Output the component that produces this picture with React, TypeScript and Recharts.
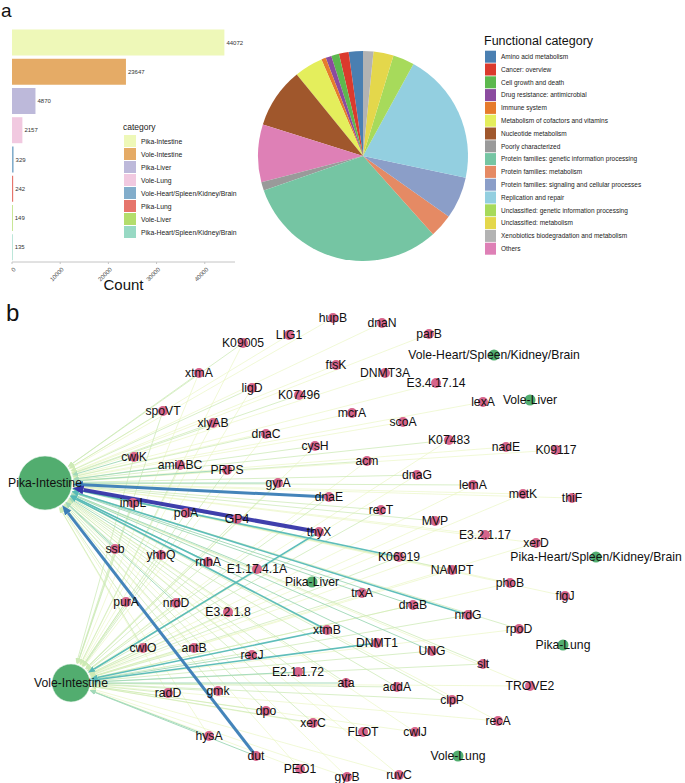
import React from "react";
import {
  BarChart,
  Bar,
  XAxis,
  YAxis,
  Cell,
  LabelList,
  Label,
  PieChart,
  Pie,
  ScatterChart,
  Scatter,
  ReferenceLine,
} from "recharts";

const FONT = "'Liberation Sans', Arial, Helvetica, sans-serif";

// ---- panel a: counts per tissue ----
const categories = [
  "Pika-Intestine",
  "Vole-Intestine",
  "Pika-Liver",
  "Vole-Lung",
  "Vole-Heart/Spleen/Kidney/Brain",
  "Pika-Lung",
  "Vole-Liver",
  "Pika-Heart/Spleen/Kidney/Brain",
];
const counts = [44072, 23647, 4870, 2157, 329, 242, 149, 135];
const countTicks = [0, 10000, 20000, 30000, 40000];
const categoryColors = ["#eef8b8", "#e5ab66", "#bdb9da", "#f1c9e0", "#82adcb", "#e6756c", "#b3dd6c", "#98d9c4"];

// ---- panel a: functional categories (pie order, counter-clockwise from top) ----
const pieCategories = [
  "Amino acid metabolism",
  "Cancer: overview",
  "Cell growth and death",
  "Drug resistance: antimicrobial",
  "Immune system",
  "Metabolism of cofactors and vitamins",
  "Nucleotide metabolism",
  "Others",
  "Poorly characterized",
  "Protein families: genetic information processing",
  "Protein families: metabolism",
  "Protein families: signaling and cellular processes",
  "Replication and repair",
  "Unclassified: genetic information processing",
  "Unclassified: metabolism",
  "Xenobiotics biodegradation and metabolism",
];
const pieShares = [2.2, 1.5, 1.2, 0.9, 0.7, 4.4, 9.3, 8.9, 1.3, 31.4, 3.6, 6.5, 20.4, 3.3, 3.1, 1.6];
const legendOrder = [
  "Amino acid metabolism",
  "Cancer: overview",
  "Cell growth and death",
  "Drug resistance: antimicrobial",
  "Immune system",
  "Metabolism of cofactors and vitamins",
  "Nucleotide metabolism",
  "Poorly characterized",
  "Protein families: genetic information processing",
  "Protein families: metabolism",
  "Protein families: signaling and cellular processes",
  "Replication and repair",
  "Unclassified: genetic information processing",
  "Unclassified: metabolism",
  "Xenobiotics biodegradation and metabolism",
  "Others",
];
const functionalColors: Record<string, string> = {
  "Amino acid metabolism": "#4a7fb1",
  "Cancer: overview": "#db3a2d",
  "Cell growth and death": "#5db84e",
  "Drug resistance: antimicrobial": "#8b4b9f",
  "Immune system": "#e67b2c",
  "Metabolism of cofactors and vitamins": "#e4ee5c",
  "Nucleotide metabolism": "#a0572c",
  "Poorly characterized": "#9a9a9a",
  "Protein families: genetic information processing": "#75c5a3",
  "Protein families: metabolism": "#e58a64",
  "Protein families: signaling and cellular processes": "#8b9ec8",
  "Replication and repair": "#93cfe0",
  "Unclassified: genetic information processing": "#a7da5b",
  "Unclassified: metabolism": "#e4d74b",
  "Xenobiotics biodegradation and metabolism": "#b3b3b3",
  Others: "#de80b6",
};

// ---- panel b: network layout (layout units) ----
const geneNodes: [string, number, number][] = [
  ["hupB", 333, 318], ["dnaN", 382, 323], ["parB", 429, 334], ["K09005", 243, 343],
  ["LIG1", 289, 335], ["ftsK", 336, 365], ["DNMT3A", 385, 373], ["xtmA", 199, 373],
  ["E3.4.17.14", 436, 383], ["ligD", 252, 388], ["K07496", 299, 395], ["lexA", 483, 402],
  ["spoVT", 163, 411], ["mcrA", 352, 413], ["scoA", 403, 422], ["xlyAB", 213, 423],
  ["dnaC", 266, 434], ["K07483", 449, 440], ["cysH", 315, 446], ["nadE", 506, 447],
  ["K09117", 556, 450], ["cwlK", 134, 457], ["acm", 367, 461], ["amiABC", 180, 465],
  ["PRPS", 227, 470], ["dnaG", 417, 475], ["gyrA", 278, 483], ["lemA", 473, 485],
  ["metK", 523, 494], ["dnaE", 329, 497], ["thiF", 572, 498], ["impL", 133, 503],
  ["recT", 381, 510], ["polA", 186, 513], ["GP4", 237, 519], ["MVP", 435, 521],
  ["thyX", 319, 532], ["E3.2.1.17", 485, 535], ["xerD", 536, 543], ["ssb", 115, 549],
  ["yhhQ", 161, 555], ["K06919", 399, 557], ["rnhA", 208, 562], ["E1.17.4.1A", 257, 569],
  ["NAMPT", 452, 570], ["phoB", 510, 583], ["trxA", 362, 593], ["flgJ", 565, 596],
  ["purA", 126, 602], ["nrdD", 176, 603], ["dnaB", 413, 605], ["E3.2.1.8", 228, 612],
  ["nrdG", 468, 615], ["rpoD", 519, 629], ["xtmB", 327, 630], ["DNMT1", 377, 643],
  ["cwlO", 143, 648], ["antB", 194, 648], ["UNG", 432, 651], ["recJ", 252, 655],
  ["slt", 483, 664], ["E2.1.1.72", 298, 672], ["ata", 346, 683], ["TROVE2", 530, 686],
  ["addA", 397, 687], ["gmk", 218, 691], ["radD", 168, 693], ["clpP", 452, 700],
  ["dpo", 266, 711], ["recA", 498, 721], ["xerC", 313, 723], ["FLOT", 363, 732],
  ["cwlJ", 415, 732], ["hysA", 209, 736], ["dut", 256, 756], ["PEO1", 300, 769],
  ["ruvC", 399, 775], ["gyrB", 347, 777],
];
const tissueNodes: [string, number, number][] = [
  ["Pika-Intestine", 45, 483],
  ["Vole-Intestine", 71, 683],
  ["Vole-Heart/Spleen/Kidney/Brain", 494, 355],
  ["Vole-Liver", 530, 400],
  ["Pika-Heart/Spleen/Kidney/Brain", 596, 557],
  ["Pika-Liver", 312, 582],
  ["Pika-Lung", 563, 645],
  ["Vole-Lung", 458, 756],
];

// edge weight class (1 light .. 6 heavy)
const toPikaIntestine: [string, number][] = [
  ["hupB", 1], ["K09005", 2], ["LIG1", 1], ["ftsK", 1], ["xtmA", 2], ["ligD", 2], ["K07496", 2],
  ["spoVT", 2], ["xlyAB", 2], ["dnaC", 2], ["cysH", 2], ["cwlK", 3], ["amiABC", 3], ["PRPS", 3],
  ["gyrA", 3], ["dnaE", 5], ["impL", 3], ["polA", 3], ["GP4", 3], ["thyX", 6], ["mcrA", 1],
  ["dnaN", 1], ["parB", 1], ["DNMT3A", 1], ["E3.4.17.14", 1], ["scoA", 1], ["K07483", 2],
  ["acm", 2], ["dnaG", 2], ["lemA", 2], ["metK", 1], ["thiF", 1], ["recT", 2], ["MVP", 2],
  ["E3.2.1.17", 1], ["K06919", 4], ["NAMPT", 2], ["trxA", 3], ["dnaB", 3], ["nrdG", 4],
  ["DNMT1", 3], ["UNG", 3], ["slt", 2], ["ssb", 3], ["yhhQ", 3], ["rnhA", 4], ["E1.17.4.1A", 3],
  ["purA", 2], ["nrdD", 3], ["E3.2.1.8", 2], ["xtmB", 4], ["cwlO", 2], ["antB", 2], ["recJ", 2],
  ["E2.1.1.72", 2], ["dut", 5], ["ata", 2], ["addA", 2], ["xerC", 2], ["gmk", 2], ["dpo", 2],
  ["radD", 1], ["FLOT", 1], ["recA", 1], ["rpoD", 2], ["TROVE2", 1], ["phoB", 1], ["flgJ", 1],
  ["xerD", 1], ["K09117", 1], ["nadE", 1], ["lexA", 1], ["clpP", 2], ["cwlJ", 1], ["gyrB", 1],
  ["ruvC", 1], ["PEO1", 1], ["hysA", 1],
];
const toVoleIntestine: [string, number][] = [
  ["thyX", 4], ["xtmB", 4], ["DNMT1", 4], ["E2.1.1.72", 3], ["hysA", 3], ["dut", 3], ["cwlK", 2],
  ["spoVT", 2], ["xtmA", 1], ["K09005", 1], ["amiABC", 2], ["impL", 2], ["ssb", 2], ["purA", 2],
  ["cwlO", 2], ["yhhQ", 2], ["nrdD", 2], ["antB", 2], ["recJ", 3], ["radD", 2], ["gmk", 2],
  ["dpo", 2], ["xerC", 2], ["ata", 3], ["addA", 2], ["clpP", 2], ["FLOT", 1], ["cwlJ", 1],
  ["PEO1", 1], ["gyrB", 1], ["ruvC", 1], ["recA", 1], ["slt", 2], ["UNG", 2], ["TROVE2", 1],
  ["dnaB", 2], ["NAMPT", 1], ["trxA", 2], ["rnhA", 2], ["E1.17.4.1A", 2], ["E3.2.1.8", 2],
  ["polA", 2], ["GP4", 2], ["gyrA", 2], ["PRPS", 2], ["dnaC", 1], ["xlyAB", 1], ["ligD", 1],
  ["cysH", 1], ["dnaG", 1], ["acm", 1], ["recT", 2], ["MVP", 1], ["K06919", 2], ["nrdG", 2],
  ["E3.2.1.17", 1], ["xerD", 1], ["phoB", 1], ["rpoD", 1], ["K07483", 1], ["dnaE", 2],
  ["metK", 1], ["lemA", 1],
];

const edgeColor = ["", "#eaf6c2", "#cdeab6", "#a2d9b9", "#55b9b6", "#3a7db6", "#3535a8"];
const edgeWidth = [0, 0.7, 0.8, 1, 1.6, 3, 4];
const arrowLen = [0, 6, 6, 6, 7, 10, 11];
const arrowWide = [0, 5, 5, 5, 6, 8, 9];
const hubRadius: Record<string, number> = { "Pika-Intestine": 27, "Vole-Intestine": 19 };

function RotatedTick(props: any) {
  const { x, y, payload } = props;
  const tx = x + 4;
  const ty = y + 4;
  return (
    <text x={tx} y={ty} textAnchor="end" fontSize={6} fill="#4d4d4d" fontFamily={FONT} transform={`rotate(-45, ${tx}, ${ty})`}>
      {payload.value}
    </text>
  );
}

function CountChart() {
  const data = categories.map((c, i) => ({ category: c, count: counts[i] }));
  return (
    <BarChart
      width={245}
      height={300}
      data={data}
      layout="vertical"
      margin={{ top: 28, right: 10, bottom: 18, left: 12 }}
      barCategoryGap="5%"
    >
      <XAxis
        type="number"
        dataKey="count"
        domain={[0, 46276]}
        ticks={countTicks}
        interval={0}
        height={20}
        tickSize={2}
        stroke="#c4c4c4"
        tick={<RotatedTick />}
        allowDataOverflow
      >
        <Label value="Count" position="bottom" offset={-3} fontSize={15} fill="#111" fontFamily={FONT} />
      </XAxis>
      <YAxis type="category" dataKey="category" width={0} tick={false} tickLine={false} stroke="#c4c4c4" />
      <Bar dataKey="count" isAnimationActive={false}>
        {data.map((d, i) => (
          <Cell key={d.category} fill={categoryColors[i]} />
        ))}
        <LabelList dataKey="count" position="right" offset={2} fontSize={6} fill="#333" fontFamily={FONT} />
      </Bar>
    </BarChart>
  );
}

function FunctionPie() {
  const data = pieCategories.map((c, i) => ({ name: c, share: pieShares[i] }));
  return (
    <PieChart width={435} height={280} margin={{ top: 0, right: 0, bottom: 0, left: 0 }}>
      <Pie
        data={data}
        dataKey="share"
        nameKey="name"
        cx={113}
        cy={156}
        outerRadius={105}
        startAngle={90}
        endAngle={450}
        stroke="none"
        isAnimationActive={false}
      >
        {data.map((d) => (
          <Cell key={d.name} fill={functionalColors[d.name]} />
        ))}
      </Pie>
    </PieChart>
  );
}

function NodeShape(props: any) {
  const { cx, cy, payload } = props;
  const hub = hubRadius[payload.name];
  const r = hub ?? (payload.kind === "tissue" ? 5.5 : 5);
  const fill = payload.kind === "tissue" ? "#52ad6f" : "#d6648b";
  return (
    <g>
      <circle cx={cx} cy={cy} r={r} fill={fill} stroke={hub ? "#e9f5ec" : "none"} strokeWidth={hub ? 0.6 : 0} />
      <text x={cx} y={cy + 4} textAnchor="middle" fontSize={12.2} fill="#111" fontFamily={FONT}>
        {payload.name}
      </text>
    </g>
  );
}

const netMargin = { top: 0, right: 0, bottom: 0, left: 0 };

function NetworkAxes() {
  return [
    <XAxis key="x" type="number" dataKey="x" domain={[0, 685]} hide allowDataOverflow />,
    <YAxis key="y" type="number" dataKey="y" domain={[295, 783]} reversed hide allowDataOverflow width={0} />,
  ];
}

function Edges() {
  const pos: Record<string, [number, number]> = {};
  geneNodes.forEach(([n, x, y]) => (pos[n] = [x, y]));
  tissueNodes.forEach(([n, x, y]) => (pos[n] = [x, y]));

  const edges: { s: string; t: string; w: number }[] = [];
  toPikaIntestine.forEach(([g, w]) => edges.push({ s: g, t: "Pika-Intestine", w }));
  toVoleIntestine.forEach(([g, w]) => edges.push({ s: g, t: "Vole-Intestine", w }));
  edges.sort((a, b) => a.w - b.w);

  return (
    <ScatterChart width={685} height={488} margin={netMargin}>
      {NetworkAxes()}
      {edges.map((e, i) => {
        const [sx, sy] = pos[e.s];
        const [tx, ty] = pos[e.t];
        const dx = tx - sx;
        const dy = ty - sy;
        const len = Math.sqrt(dx * dx + dy * dy);
        const back = (hubRadius[e.t] ?? 5) + 1 + arrowLen[e.w];
        const ex = tx - (dx / len) * back;
        const ey = ty - (dy / len) * back;
        return (
          <ReferenceLine
            key={i}
            segment={[
              { x: sx, y: sy },
              { x: ex, y: ey },
            ]}
            stroke={edgeColor[e.w]}
            strokeWidth={edgeWidth[e.w]}
            strokeOpacity={0.95}
            markerEnd={`url(#arr${e.w})`}
            ifOverflow="visible"
          />
        );
      })}
    </ScatterChart>
  );
}

function Nodes() {
  const nodes = [
    ...geneNodes.map(([name, x, y]) => ({ name, x, y, kind: "gene" })),
    ...tissueNodes.map(([name, x, y]) => ({ name, x, y, kind: "tissue" })),
  ];
  return (
    <ScatterChart width={685} height={488} margin={netMargin}>
      {NetworkAxes()}
      <Scatter data={nodes} isAnimationActive={false} shape={(p: any) => <NodeShape {...p} />} />
    </ScatterChart>
  );
}

function Overlay() {
  return (
    <svg width={685} height={783} style={{ position: "absolute", left: 0, top: 0, pointerEvents: "none" }}>
      <defs>
        {[1, 2, 3, 4, 5, 6].map((l) => (
          <marker
            key={l}
            id={`arr${l}`}
            markerWidth={arrowLen[l]}
            markerHeight={arrowWide[l]}
            refX={0}
            refY={arrowWide[l] / 2}
            orient="auto"
            markerUnits="userSpaceOnUse"
          >
            <path d={`M0,0 L${arrowLen[l]},${arrowWide[l] / 2} L0,${arrowWide[l]} z`} fill={edgeColor[l]} />
          </marker>
        ))}
      </defs>
      <text x={1} y={17} fontSize={19} fill="#111" fontFamily={FONT}>a</text>
      <text x={6} y={321} fontSize={24} fill="#111" fontFamily={FONT}>b</text>

      <text x={123} y={130} fontSize={8.5} fill="#222" fontFamily={FONT}>category</text>
      {categories.map((c, i) => (
        <g key={c}>
          <rect x={124} y={135 + 13 * i} width={12} height={12} fill={categoryColors[i]} />
          <text x={141} y={143.5 + 13 * i} fontSize={6.8} fill="#222" fontFamily={FONT}>{c}</text>
        </g>
      ))}

      <text x={484} y={44.5} fontSize={12.5} fill="#111" fontFamily={FONT}>Functional category</text>
      {legendOrder.map((c, i) => (
        <g key={c}>
          <rect x={485} y={50.7 + 12.8 * i} width={11} height={12} fill={functionalColors[c]} />
          <text x={501} y={59 + 12.8 * i} fontSize={6.5} fill="#222" fontFamily={FONT}>{c}</text>
        </g>
      ))}
    </svg>
  );
}

export default function App() {
  return (
    <div style={{ position: "absolute", left: 0, top: 0, width: 685, height: 783, background: "#fff", fontFamily: FONT }}>
      <div style={{ position: "absolute", left: 0, top: 0 }}>
        <CountChart />
      </div>
      <div style={{ position: "absolute", left: 250, top: 0 }}>
        <FunctionPie />
      </div>
      <div style={{ position: "absolute", left: 0, top: 295 }}>
        <Edges />
      </div>
      <div style={{ position: "absolute", left: 0, top: 295 }}>
        <Nodes />
      </div>
      <Overlay />
    </div>
  );
}
